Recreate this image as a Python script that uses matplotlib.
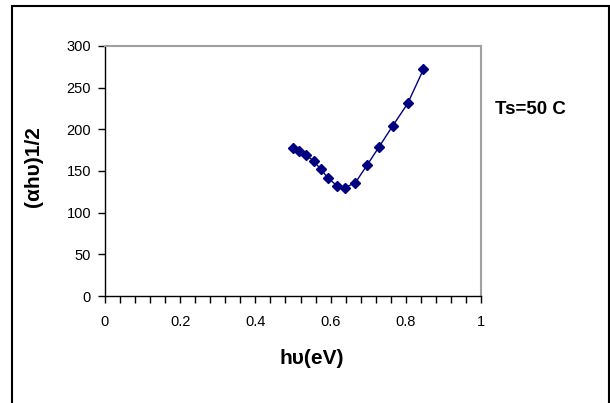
import matplotlib as mpl
from matplotlib import pyplot as plt
from matplotlib.patches import Rectangle
from matplotlib.ticker import MultipleLocator, FormatStrFormatter

mpl.rcParams["font.family"] = ["Liberation Sans", "DejaVu Sans"]

# photon energy (eV) and (alpha h nu)^1/2
hv = [0.50, 0.515, 0.535, 0.555, 0.574, 0.594, 0.618, 0.638, 0.666,
      0.697, 0.729, 0.765, 0.805, 0.847]
ahv = [177, 174, 169, 162, 152, 141, 132, 130, 136,
       157, 179, 204, 231, 272]

fig = plt.figure(figsize=(6.1, 4.03), dpi=100)
ax = fig.add_axes([0.1721, 0.2655, 0.6164, 0.6204])

ax.plot(hv, ahv, color='#000080', lw=1, marker='D', ms=5.5,
        markerfacecolor='#000080', markeredgecolor='#000080')

ax.set_xlim(0, 1)
ax.set_ylim(0, 300)
ax.xaxis.set_major_locator(MultipleLocator(0.2))
ax.xaxis.set_minor_locator(MultipleLocator(0.04))
ax.xaxis.set_major_formatter(FormatStrFormatter('%g'))
ax.yaxis.set_major_locator(MultipleLocator(50))
ax.tick_params(axis='both', which='both', direction='out', length=5,
               width=1, labelsize=10.5, colors='black')
ax.tick_params(axis='x', pad=9)
ax.tick_params(axis='y', pad=5)

for s in ['left', 'bottom']:
    ax.spines[s].set_color('black')
    ax.spines[s].set_linewidth(1)
for s in ['top', 'right']:
    ax.spines[s].set_color('#a0a0a0')
    ax.spines[s].set_linewidth(1.5)

# axis titles
fig.text(312 / 610, 1 - 359 / 403, 'hυ(eV)', fontsize=15, fontweight='bold',
         ha='center', va='center')
fig.text(34 / 610, 1 - 167 / 403, '(αhυ)1/2', fontsize=15, fontweight='bold',
         ha='center', va='center', rotation=90)

fig.text(495 / 610, 1 - 110 / 403, 'Ts=50 C', fontsize=13.5, fontweight='bold',
         va='center', ha='left')

# chart border
fig.patches.append(Rectangle((12 / 610, -0.05), 597 / 610, 1 - 6 / 403 + 0.05,
                             transform=fig.transFigure, fill=False,
                             edgecolor='black', lw=1.5))

fig.savefig('out.png', dpi=100)
